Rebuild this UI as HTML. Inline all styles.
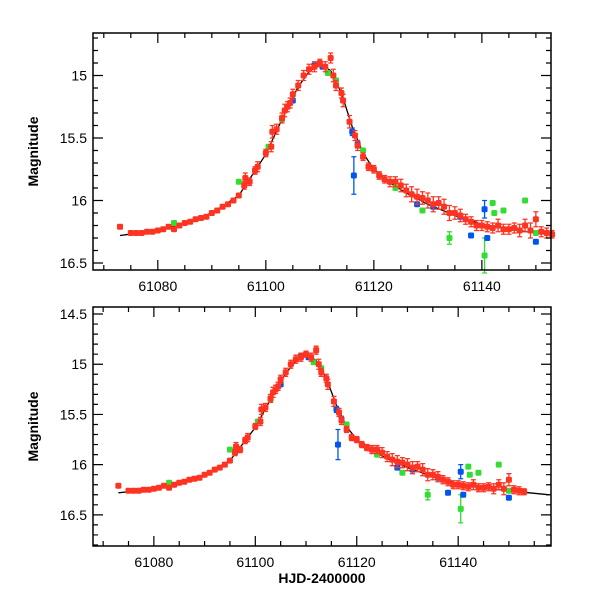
<!DOCTYPE html>
<html><head><meta charset="utf-8"><style>
body{margin:0;background:#fff;}
svg text{font-family:"Liberation Sans",sans-serif;}
</style></head><body>
<svg id="chart" width="600" height="600" xmlns="http://www.w3.org/2000/svg"></svg>
<script>
const modelT=[61073,61080,61085,61090,61095,61100,61103,61106,61108,61110,61112,61114,61116,61118,61120,61123,61126,61130,61135,61140,61145,61150,61158];
const modelM=[16.28,16.24,16.18,16.1,15.96,15.63,15.35,15.09,14.97,14.91,14.96,15.14,15.41,15.62,15.75,15.86,15.94,16.03,16.12,16.19,16.23,16.26,16.3];
const redT=[61073,61075,61076,61077,61078,61079,61080,61081,61082,61083,61084,61085,61086,61087,61088,61089,61090,61091,61092,61093,61094,61095,61096,61096.2,61097,61098,61098.5,61100,61101,61101.2,61102,61103,61103.5,61104,61104.5,61105,61106,61107,61108,61109,61110,61111,61112,61112.5,61113,61114,61114.3,61115.5,61116.5,61117,61118,61119,61120,61121,61122,61123,61124,61125,61126,61127,61128,61129,61130,61131,61132,61133,61134,61135,61136,61137,61138,61139,61140,61141,61142,61143,61144,61145,61146,61147,61148,61149,61150,61151,61152,61153];
const redM=[16.21,16.26,16.26,16.26,16.25,16.25,16.24,16.23,16.21,16.23,16.2,16.18,16.17,16.15,16.14,16.13,16.1,16.08,16.05,16.03,16.0,15.96,15.88,15.82,15.85,15.76,15.73,15.62,15.57,15.45,15.43,15.34,15.28,15.25,15.22,15.15,15.08,15.0,14.95,14.93,14.9,14.93,14.86,15.0,15.08,15.14,15.2,15.37,15.48,15.56,15.65,15.73,15.75,15.8,15.83,15.85,15.85,15.88,15.92,15.95,15.97,15.98,16.0,16.03,16.02,16.05,16.1,16.1,16.12,16.15,16.17,16.2,16.2,16.21,16.22,16.2,16.23,16.23,16.22,16.24,16.2,16.24,16.15,16.25,16.26,16.27];
const redE=[0.02,0.01,0.01,0.01,0.01,0.01,0.01,0.01,0.01,0.01,0.01,0.01,0.01,0.01,0.01,0.01,0.01,0.01,0.01,0.01,0.01,0.02,0.03,0.04,0.03,0.03,0.04,0.03,0.04,0.05,0.04,0.04,0.05,0.04,0.04,0.04,0.04,0.04,0.04,0.04,0.03,0.04,0.04,0.05,0.04,0.04,0.05,0.05,0.04,0.04,0.03,0.03,0.03,0.03,0.03,0.04,0.04,0.05,0.05,0.06,0.06,0.05,0.06,0.06,0.05,0.06,0.06,0.05,0.05,0.04,0.04,0.04,0.04,0.04,0.04,0.05,0.04,0.04,0.04,0.05,0.05,0.06,0.06,0.04,0.04,0.03];
const blueT=[61105,61109,61110.5,61116.3,61116,61117,61123,61128,61131,61136,61138,61140.5,61141,61150];
const blueM=[15.2,14.92,14.93,15.8,15.45,15.55,15.85,16.03,16.05,16.13,16.28,16.07,16.3,16.33];
const blueE=[0.02,0.02,0.02,0.15,0.03,0.03,0.02,0.02,0.02,0.02,0.02,0.07,0.02,0.02];
const greenT=[61083,61095,61100.5,61103,61111.5,61113,61118,61121,61124,61129,61134,61140.5,61142,61142.3,61144,61148,61150];
const greenM=[16.18,15.85,15.57,15.35,14.98,15.04,15.6,15.8,15.9,16.08,16.3,16.44,16.02,16.1,16.08,16.0,16.26];
const greenE=[0.01,0.01,0.01,0.01,0.01,0.01,0.01,0.01,0.01,0.01,0.05,0.14,0.01,0.01,0.01,0.01,0.01];
const xTicks=[61080,61100,61120,61140];

const svg=document.getElementById('chart');
const NS='http://www.w3.org/2000/svg';
function mk(tag,attrs,parent){const e=document.createElementNS(NS,tag);for(const k in attrs)e.setAttribute(k,attrs[k]);(parent||svg).appendChild(e);return e;}

const panels=[
 {name:'top',x0:93,x1:551,y0:33,y1:270,tmin:61068,tmax:61152.8,mmin:14.66,mmax:16.556,yTicks:[15,15.5,16,16.5],xlabel:false},
 {name:'bottom',x0:93,x1:551,y0:307,y1:546,tmin:61068,tmax:61158.3,mmin:14.43,mmax:16.81,yTicks:[14.5,15,15.5,16,16.5],xlabel:true}
];
panels.forEach(p=>{
 const g=mk('g',{});
 
 
 const X=t=>p.x0+(t-p.tmin)/(p.tmax-p.tmin)*(p.x1-p.x0);
 const Y=m=>p.y0+(m-p.mmin)/(p.mmax-p.mmin)*(p.y1-p.y0);
 let d='';modelT.forEach((t,i)=>{if(t<p.tmin||t>p.tmax+1)return;d+=(d?'L':'M')+X(Math.min(t,p.tmax)).toFixed(1)+','+Y(modelM[i]).toFixed(1);});
 const ml=mk('path',{d:d,fill:'none',stroke:'#000','stroke-width':1.3,'stroke-linejoin':'round'},g);
 
 
 function series(T,M,E,col,nm){
  const sg=mk('g',{},g);
  
  
  T.forEach((t,i)=>{
   const x=X(t),y=Y(M[i]),e=Math.abs(Y(M[i]+E[i])-y);
   if(e>3){mk('path',{d:`M${x},${y-e}V${y+e}M${x-2.5},${y-e}h5M${x-2.5},${y+e}h5`,stroke:col,'stroke-width':1.3},sg);}
   const r=mk('rect',{x:x-3,y:y-3,width:6,height:6,rx:1.5,fill:col},sg);
   
   
  });
 }
 series(greenT,greenM,greenE,'#33dd33','green');
 series(blueT,blueM,blueE,'#0055ee','blue');
 series(redT,redM,redE,'#ff3322','red');
 const fr=mk('rect',{x:p.x0,y:p.y0,width:p.x1-p.x0,height:p.y1-p.y0,fill:'none',stroke:'#000','stroke-width':1.5},g);
 
 
 let td='';
 for(let t=61070;t<=p.tmax;t+=5){const x=X(t),L=(t%20===0)?10:5;td+=`M${x},${p.y1}v${-L}M${x},${p.y0}v${L}`;}
 for(let m=Math.ceil(p.mmin*10);m<=p.mmax*10;m++){const y=Y(m/10),L=(m%5===0)?10:5;td+=`M${p.x0},${y}h${L}M${p.x1},${y}h${-L}`;}
 mk('path',{d:td,stroke:'#000','stroke-width':1.2},g);
 xTicks.forEach(t=>{const tx=mk('text',{x:X(t),y:p.y1+21,'font-size':14,'text-anchor':'middle'},g);tx.textContent=t;
  
  });
 p.yTicks.forEach(m=>{const tx=mk('text',{x:p.x0-6,y:Y(m)+5,'font-size':14,'text-anchor':'end'},g);tx.textContent=m;
  
  });
 const yc=(p.y0+p.y1)/2;
 const yl=mk('text',{x:38,y:yc,'font-size':14,'font-weight':'bold','text-anchor':'middle',transform:`rotate(-90 38 ${yc})`},g);
 yl.textContent='Magnitude';
 
 
 if(p.xlabel){const xl=mk('text',{x:322,y:583,'font-size':14,'font-weight':'bold','text-anchor':'middle'},g);xl.textContent='HJD-2400000';
  
  }
});
</script>
</body></html>
